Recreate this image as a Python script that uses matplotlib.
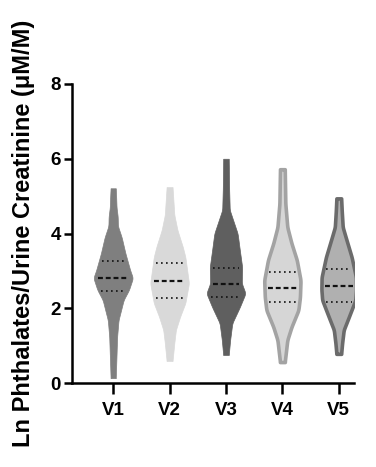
import numpy as np
import matplotlib
matplotlib.use("Agg")
import matplotlib.pyplot as plt

# ---- data ----
categories = ["V1", "V2", "V3", "V4", "V5"]

# density profiles: levels (Ln value) and relative density (1 = widest of all)
v1_levels = [0.13, 0.6, 1.24, 1.68, 1.95, 2.22, 2.49, 2.81, 3.02, 3.47, 3.9, 4.2, 4.45, 4.7, 5.0, 5.21]
v1_dens   = [0.13, 0.16, 0.20, 0.27, 0.40, 0.53, 0.80, 1.00, 0.86, 0.62, 0.43, 0.24, 0.23, 0.17, 0.15, 0.13]
v2_levels = [0.59, 1.07, 1.42, 1.77, 2.14, 2.67, 3.37, 3.64, 4.09, 4.5, 5.0, 5.24]
v2_dens   = [0.15, 0.24, 0.32, 0.53, 0.80, 0.98, 0.80, 0.67, 0.40, 0.24, 0.18, 0.15]
v3_levels = [0.75, 1.15, 1.6, 2.03, 2.4, 2.67, 3.1, 3.56, 4.0, 4.63, 5.2, 6.0]
v3_dens   = [0.14, 0.21, 0.32, 0.70, 0.99, 0.80, 0.82, 0.70, 0.59, 0.19, 0.16, 0.14]
v4_levels = [0.56, 1.15, 1.5, 1.95, 2.3, 2.75, 3.29, 3.74, 4.17, 4.8, 5.72]
v4_dens   = [0.12, 0.25, 0.46, 0.81, 0.89, 0.92, 0.73, 0.46, 0.25, 0.15, 0.12]
v5_levels = [0.78, 1.07, 1.42, 1.77, 2.22, 2.5, 2.83, 3.37, 3.9, 4.17, 4.6, 4.94]
v5_dens   = [0.12, 0.17, 0.25, 0.51, 0.84, 0.88, 0.87, 0.65, 0.35, 0.20, 0.15, 0.12]

medians = [2.82, 2.73, 2.65, 2.54, 2.59]
q1s     = [2.47, 2.27, 2.31, 2.17, 2.18]
q3s     = [3.26, 3.21, 3.07, 2.97, 3.05]

yticks = [0, 2, 4, 6, 8]
ylabel = "Ln Phthalates/Urine Creatinine (\u03bcM/M)"

levels = [v1_levels, v2_levels, v3_levels, v4_levels, v5_levels]
dens = [v1_dens, v2_dens, v3_dens, v4_dens, v5_dens]

fills = ["#7f7f7f", "#d9d9d9", "#5f5f5f", "#d6d6d6", "#b0b0b0"]
edges = ["#7f7f7f", "#d9d9d9", "#5f5f5f", "#a3a3a3", "#6b6b6b"]
edge_lw = [0.5, 0.5, 0.5, 2.6, 2.6]

plt.rcParams['font.family'] = ['Liberation Sans', 'DejaVu Sans']
plt.rcParams['font.weight'] = 'bold'

fig = plt.figure(figsize=(3.76, 4.67), dpi=100)
ax = fig.add_axes([72 / 376, 84 / 467, 282 / 376, 299 / 467])

maxw = 0.35
for i in range(len(categories)):
    lv = np.array(levels[i]); d = np.array(dens[i])
    yy = np.linspace(lv[0], lv[-1], 400)
    hw = np.interp(yy, lv, d)
    k = 11
    ker = np.ones(k) / k
    hw_s = np.convolve(np.pad(hw, k // 2, mode='edge'), ker, mode='valid')
    hw_s = hw_s * maxw
    ax.fill_betweenx(yy, i - hw_s, i + hw_s, facecolor=fills[i], edgecolor=edges[i],
                     linewidth=edge_lw[i], joinstyle='round', zorder=2)
    for val, ls, lw in [(medians[i], (0, (2.2, 1.3)), 1.6),
                        (q1s[i], (0, (1, 2)), 1.2),
                        (q3s[i], (0, (1, 2)), 1.2)]:
        w = np.interp(val, yy, hw_s) * 0.8
        ax.plot([i - w, i + w], [val, val], color="#111111", linestyle=ls, linewidth=lw,
                solid_capstyle='butt', dash_capstyle='butt', zorder=3)

ax.set_xlim(-0.73, 4.27)
ax.set_ylim(0, 8)
ax.set_xticks(range(len(categories)))
ax.set_xticklabels(categories, fontsize=13.5, fontweight='bold')
ax.set_yticks(yticks)
ax.set_yticklabels([str(t) for t in yticks], fontsize=13.5, fontweight='bold')
ax.set_ylabel(ylabel, fontsize=17, fontweight='bold')
ax.yaxis.set_label_coords(-0.13, 0.5)
for s in ['top', 'right']:
    ax.spines[s].set_visible(False)
for s in ['left', 'bottom']:
    ax.spines[s].set_linewidth(1.8)
ax.tick_params(axis='both', width=1.8, length=6, color='black', pad=2)
ax.tick_params(axis='x', length=8, pad=6)

fig.savefig("out.png", dpi=100)
